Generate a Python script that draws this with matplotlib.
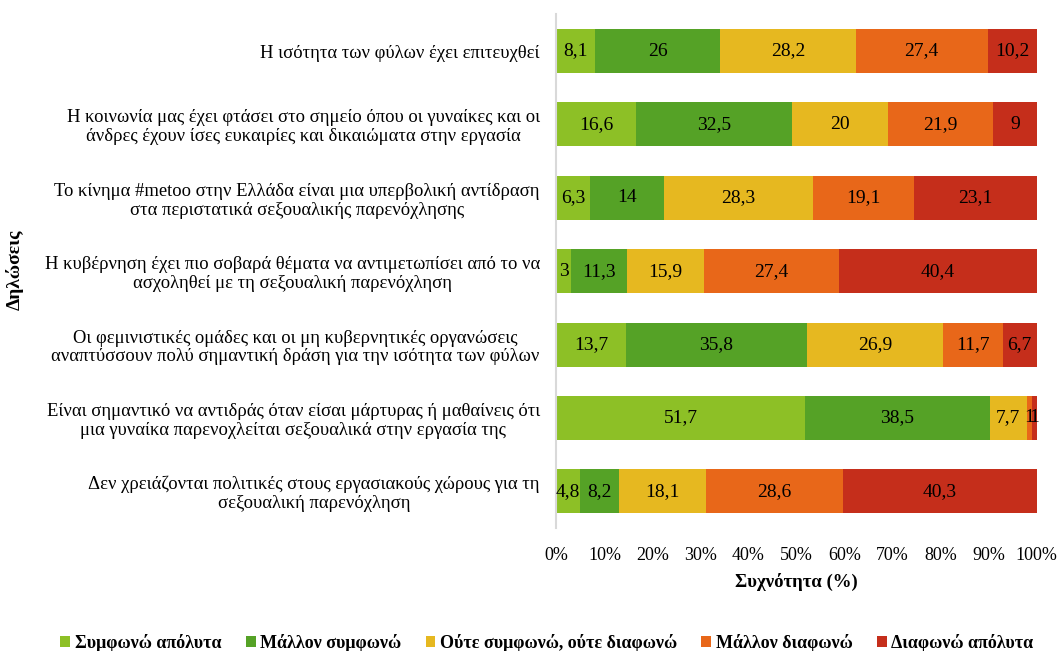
import matplotlib.pyplot as plt
import numpy as np

plt.rcParams['font.family'] = ['Liberation Serif', 'DejaVu Serif']

# Statements (top to bottom)
statements = [
    "Η ισότητα των φύλων έχει επιτευχθεί",
    "Η κοινωνία μας έχει φτάσει στο σημείο όπου οι γυναίκες και οι\nάνδρες έχουν ίσες ευκαιρίες και δικαιώματα στην εργασία",
    "Το κίνημα #metoo στην Ελλάδα είναι μια υπερβολική αντίδραση\nστα περιστατικά σεξουαλικής παρενόχλησης",
    "Η κυβέρνηση έχει πιο σοβαρά θέματα να αντιμετωπίσει από το να\nασχοληθεί με τη σεξουαλική παρενόχληση",
    "Οι φεμινιστικές ομάδες και οι μη κυβερνητικές οργανώσεις\nαναπτύσσουν πολύ σημαντική δράση για την ισότητα των φύλων",
    "Είναι σημαντικό να αντιδράς όταν είσαι μάρτυρας ή μαθαίνεις ότι\nμια γυναίκα παρενοχλείται σεξουαλικά στην εργασία της",
    "Δεν χρειάζονται πολιτικές στους εργασιακούς χώρους για τη\nσεξουαλική παρενόχληση",
]

series_names = ["Συμφωνώ απόλυτα", "Μάλλον συμφωνώ", "Ούτε συμφωνώ, ούτε διαφωνώ",
                "Μάλλον διαφωνώ", "Διαφωνώ απόλυτα"]
colors = ["#8DC026", "#55A226", "#E6B820", "#E86719", "#C52E1B"]

agree_fully = [8.1, 16.6, 6.3, 3, 13.7, 51.7, 4.8]
agree_rather = [26, 32.5, 14, 11.3, 35.8, 38.5, 8.2]
neutral = [28.2, 20, 28.3, 15.9, 26.9, 7.7, 18.1]
disagree_rather = [27.4, 21.9, 19.1, 27.4, 11.7, 1, 28.6]
disagree_fully = [10.2, 9, 23.1, 40.4, 6.7, 1, 40.3]

data = np.array([agree_fully, agree_rather, neutral, disagree_rather, disagree_fully])
totals = data.sum(axis=0)
shares = data / totals * 100  # 100% stacked

fig = plt.figure(figsize=(10.62, 6.51), dpi=100)
ax = fig.add_axes([0.524, 0.189, 0.452, 0.789])

y = np.arange(len(statements))
left = np.zeros(len(statements))
for i, name in enumerate(series_names):
    bars = ax.barh(y, shares[i], left=left, height=0.6, color=colors[i], label=name)
    labels = [f"{v:g}".replace('.', ',') for v in data[i]]
    ax.bar_label(bars, labels=labels, label_type='center', fontsize=14, color='black')
    left += shares[i]

ax.set_ylim(len(statements) - 0.5, -0.5)
ax.set_xlim(0, 100)
ax.set_xticks(np.arange(0, 101, 10))
ax.set_xticklabels([f"{t}%" for t in range(0, 101, 10)], fontsize=13)
ax.set_yticks(y)
ax.set_yticklabels(statements, fontsize=13.4, linespacing=1.15)
for lbl in ax.get_yticklabels():
    lbl.set_multialignment('center')
ax.tick_params(axis='y', length=0, pad=12)
ax.tick_params(axis='x', length=0, pad=14)

for s in ['top', 'right', 'bottom']:
    ax.spines[s].set_visible(False)
ax.spines['left'].set_color('#D9D9D9')
ax.spines['left'].set_linewidth(1.5)

ax.set_xlabel("Συχνότητα (%)", fontsize=13.5, fontweight='bold', labelpad=6)
fig.text(0.014, 0.585, "Δηλώσεις", rotation=90, fontsize=14, fontweight='bold',
         ha='center', va='center')

fig.legend(loc='lower center', bbox_to_anchor=(0.515, -0.026), ncol=5, frameon=False,
           prop={'size': 13, 'weight': 'bold'}, handlelength=0.55, handleheight=0.55,
           handletextpad=0.25, columnspacing=1.35)

fig.savefig("out.png", dpi=100)
